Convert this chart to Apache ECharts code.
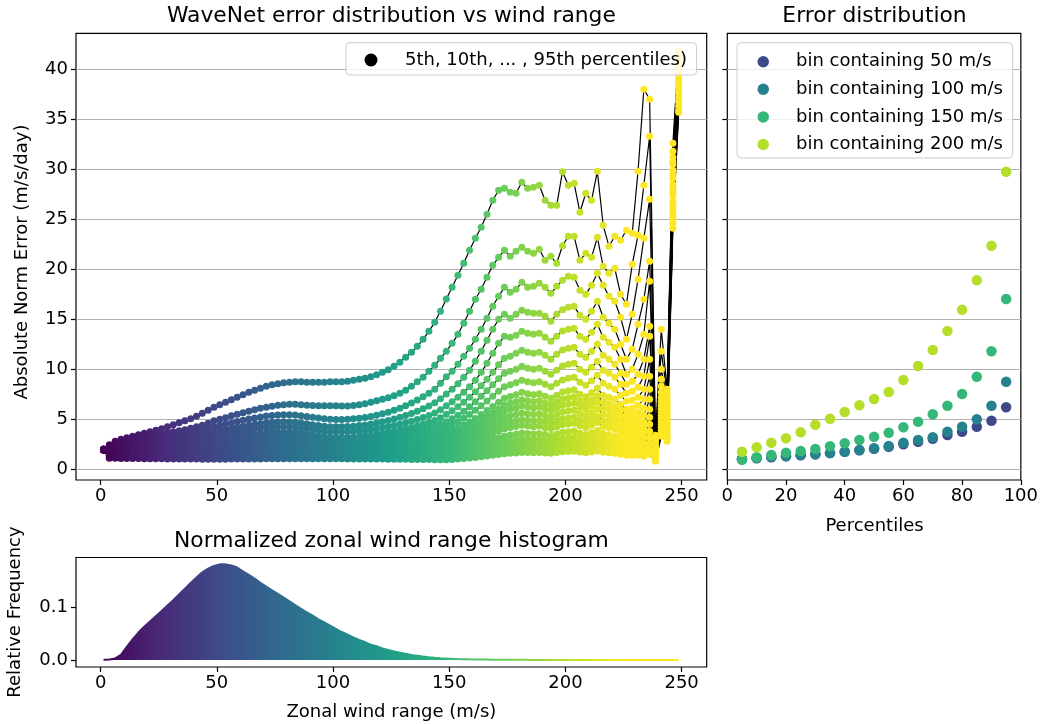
<!DOCTYPE html>
<html><head><meta charset="utf-8">
<script src="https://cdn.jsdelivr.net/npm/echarts@6/dist/echarts.min.js"></script>
<style>html,body{margin:0;padding:0;background:#fff}#c{width:1041px;height:724px}</style>
</head><body><div id="c"></div>
<script>
// ---------------- DATA ----------------
const windBins = [1.25,3.75,6.25,8.75,11.25,13.75,16.25,18.75,21.25,23.75,
26.25,28.75,31.25,33.75,36.25,38.75,41.25,43.75,46.25,48.75,
51.25,53.75,56.25,58.75,61.25,63.75,66.25,68.75,71.25,73.75,
76.25,78.75,81.25,83.75,86.25,88.75,91.25,93.75,96.25,98.75,
101.25,103.75,106.25,108.75,111.25,113.75,116.25,118.75,121.25,123.75,
126.25,128.75,131.25,133.75,136.25,138.75,141.25,143.75,146.25,148.75,
151.25,153.75,156.25,158.75,161.25,163.75,166.25,168.75,171.25,173.75,
176.25,178.75,181.25,183.75,186.25,188.75,191.25,193.75,196.25,198.75,
201.25,203.75,206.25,208.75,211.25,213.75,216.25,218.75,221.25,223.75,
226.25,228.75,231.25,233.75,236.25,238.75,241.25,243.75,246.25,248.75];

const p95 = [2.0,2.45,2.8,3.0,3.15,3.3,3.45,3.6,3.75,3.9,
4.05,4.25,4.45,4.65,4.85,5.05,5.3,5.6,5.9,6.2,
6.45,6.7,6.95,7.2,7.45,7.7,7.9,8.1,8.3,8.45,
8.55,8.65,8.7,8.75,8.75,8.7,8.7,8.7,8.7,8.76,
8.75,8.75,8.8,8.9,9.0,9.1,9.25,9.45,9.7,9.95,
10.3,10.7,11.2,11.7,12.3,13.0,13.8,14.7,15.8,17.03,
18.2,19.4,20.6,21.9,23.1,24.2,25.5,26.9,27.9,28.1,
27.7,27.6,28.7,28.1,28.2,28.4,26.9,26.4,26.4,29.76,
28.4,28.6,25.7,27.6,26.9,29.8,24.4,22.3,23.3,22.9,
23.9,23.6,29.8,38.0,37.0,3.4,14.0,8.0,32.6,41.8];
const p90 = [2.0,2.3,2.6,2.8,2.95,3.05,3.15,3.25,3.35,3.45,
3.55,3.65,3.75,3.85,3.95,4.1,4.25,4.4,4.6,4.86,
5.0,5.15,5.35,5.5,5.65,5.8,5.95,6.1,6.2,6.3,
6.4,6.45,6.5,6.5,6.45,6.4,6.38,6.36,6.35,6.36,
6.35,6.34,6.34,6.37,6.45,6.55,6.7,6.85,7.0,7.15,
7.35,7.6,7.9,8.3,8.75,9.2,9.8,10.4,11.1,11.8,
12.6,13.5,14.6,15.8,17.0,18.0,19.2,20.4,21.2,21.9,
21.3,21.8,22.2,21.8,21.6,22.0,20.9,21.3,20.6,22.36,
23.3,23.3,20.9,21.6,21.2,23.2,20.3,19.6,20.1,17.5,
16.5,20.5,23.4,28.4,33.3,3.0,11.8,7.6,31.8,41.3];
const p85 = [2.0,2.2,2.45,2.6,2.7,2.8,2.88,2.96,3.04,3.12,
3.2,3.3,3.4,3.5,3.6,3.7,3.82,3.95,4.1,4.26,
4.4,4.52,4.65,4.78,4.9,5.02,5.13,5.23,5.32,5.38,
5.43,5.45,5.45,5.42,5.36,5.28,5.2,5.12,5.06,5.0,
4.99,4.99,5.01,5.05,5.11,5.19,5.29,5.41,5.55,5.71,
5.9,6.1,6.35,6.62,6.92,7.25,7.6,8.0,8.6,9.26,
9.8,10.5,11.3,12.1,13.0,14.0,15.1,16.3,17.3,18.2,
17.7,18.0,18.7,18.2,18.3,18.6,18.2,17.6,18.3,18.9,
19.3,19.2,17.9,17.5,18.4,19.6,18.4,17.3,16.8,15.2,
13.0,15.5,19.0,23.1,27.0,2.75,10.0,7.2,31.2,40.8];
const p80 = [2.0,2.15,2.35,2.48,2.57,2.65,2.72,2.79,2.86,2.93,
3.0,3.07,3.14,3.22,3.3,3.38,3.47,3.56,3.66,3.76,
3.87,3.98,4.09,4.2,4.31,4.41,4.5,4.58,4.65,4.7,
4.73,4.75,4.74,4.7,4.63,4.55,4.46,4.38,4.31,4.26,
4.25,4.25,4.27,4.31,4.37,4.44,4.53,4.63,4.75,4.88,
5.03,5.2,5.38,5.58,5.8,6.05,6.33,6.65,7.05,7.53,
8.0,8.55,9.2,9.9,10.8,11.8,12.9,14.0,15.0,15.5,
15.1,15.5,15.9,15.7,15.6,15.6,15.3,14.8,15.5,15.96,
16.2,16.3,15.4,15.0,15.8,16.8,15.2,14.6,14.0,12.5,
11.0,12.0,14.5,17.0,20.8,2.5,9.0,6.8,30.8,40.4];
const p75 = [2.0,2.1,2.28,2.38,2.46,2.53,2.59,2.65,2.71,2.77,
2.83,2.89,2.95,3.01,3.07,3.14,3.2,3.27,3.35,3.43,
3.51,3.6,3.69,3.78,3.87,3.95,4.03,4.1,4.16,4.2,
4.23,4.25,4.24,4.2,4.14,4.06,3.97,3.88,3.81,3.76,
3.75,3.75,3.77,3.8,3.85,3.91,3.98,4.06,4.15,4.26,
4.38,4.51,4.65,4.81,4.98,5.17,5.38,5.62,5.95,6.36,
6.75,7.2,7.7,8.25,8.9,9.7,10.6,11.6,12.6,13.3,
13.2,13.4,13.8,13.6,13.5,13.6,13.2,12.8,13.3,13.83,
14.0,14.1,13.3,13.0,13.7,14.5,13.2,12.7,12.2,11.0,
9.5,10.0,11.5,13.5,18.8,2.3,8.3,6.5,30.5,40.0];
const p70 = [2.0,2.05,2.2,2.29,2.36,2.42,2.47,2.52,2.57,2.62,
2.67,2.72,2.76,2.8,2.84,2.88,2.92,2.96,3.0,3.05,
3.11,3.18,3.25,3.32,3.39,3.46,3.52,3.58,3.63,3.67,
3.7,3.71,3.7,3.66,3.6,3.52,3.43,3.34,3.26,3.2,
3.19,3.19,3.21,3.24,3.29,3.35,3.42,3.5,3.59,3.69,
3.8,3.92,4.05,4.19,4.34,4.5,4.68,4.88,5.15,5.5,
5.85,6.25,6.7,7.2,7.75,8.35,9.0,9.7,10.45,11.1,
11.3,11.6,11.9,11.7,11.6,11.7,11.4,11.0,11.5,11.93,
12.1,12.2,11.5,11.2,11.8,12.5,11.4,11.0,10.5,9.6,
8.5,8.8,9.5,11.0,14.3,2.15,7.7,6.2,29.9,39.7];
const p65 = [2.0,2.0,2.13,2.2,2.26,2.31,2.35,2.39,2.43,2.47,
2.51,2.54,2.57,2.6,2.62,2.64,2.66,2.68,2.71,2.75,
2.8,2.85,2.91,2.97,3.03,3.09,3.14,3.19,3.23,3.26,
3.28,3.29,3.28,3.25,3.2,3.14,3.07,3.01,2.96,2.93,
2.92,2.92,2.93,2.96,3.0,3.05,3.11,3.18,3.26,3.34,
3.43,3.53,3.64,3.75,3.87,4.0,4.14,4.3,4.5,4.76,
5.05,5.4,5.8,6.25,6.75,7.3,7.85,8.45,9.05,9.6,
9.8,10.0,10.3,10.1,10.0,10.1,9.8,9.5,9.9,10.33,
10.5,10.6,10.0,9.7,10.2,10.8,9.9,9.6,9.2,8.5,
7.6,7.8,8.2,9.3,13.3,2.0,7.2,5.9,29.4,39.5];
const p60 = [1.98,1.95,2.06,2.12,2.17,2.21,2.24,2.27,2.3,2.33,
2.35,2.37,2.39,2.41,2.42,2.43,2.44,2.45,2.47,2.5,
2.54,2.58,2.63,2.68,2.73,2.78,2.83,2.87,2.9,2.93,
2.95,2.96,2.95,2.93,2.89,2.84,2.78,2.73,2.69,2.66,
2.65,2.65,2.66,2.68,2.71,2.75,2.8,2.85,2.91,2.98,
3.05,3.13,3.21,3.3,3.4,3.5,3.62,3.75,3.94,4.2,
4.45,4.75,5.1,5.48,5.9,6.35,6.82,7.3,7.8,8.25,
8.45,8.65,8.9,8.75,8.65,8.75,8.5,8.25,8.6,8.93,
9.1,9.2,8.7,8.4,8.85,9.4,8.6,8.3,8.0,7.4,
6.8,6.9,7.2,8.0,11.0,1.9,6.8,5.6,29.1,39.1];
const p55 = [1.97,1.88,1.98,2.03,2.07,2.1,2.12,2.14,2.16,2.18,
2.19,2.2,2.21,2.22,2.22,2.22,2.22,2.22,2.23,2.25,
2.28,2.31,2.35,2.39,2.43,2.47,2.51,2.54,2.57,2.59,
2.61,2.62,2.61,2.59,2.55,2.5,2.45,2.4,2.36,2.33,
2.33,2.33,2.34,2.36,2.39,2.42,2.46,2.5,2.55,2.6,
2.66,2.72,2.79,2.86,2.94,3.03,3.13,3.25,3.42,3.66,
3.88,4.13,4.42,4.74,5.09,5.47,5.87,6.28,6.7,7.1,
7.28,7.45,7.7,7.55,7.45,7.55,7.3,7.1,7.4,7.73,
7.85,7.95,7.5,7.25,7.65,8.1,7.4,7.2,7.0,6.5,
6.0,6.1,6.4,7.0,9.3,1.8,6.4,5.3,28.5,38.7];
const p50 = [1.97,1.8,1.9,1.94,1.97,1.99,2.0,2.01,2.02,2.03,
2.03,2.03,2.03,2.03,2.03,2.02,2.02,2.02,2.03,2.05,
2.07,2.1,2.13,2.16,2.19,2.22,2.25,2.28,2.3,2.32,
2.33,2.34,2.33,2.31,2.28,2.24,2.2,2.16,2.13,2.1,
2.1,2.1,2.11,2.13,2.15,2.18,2.21,2.25,2.29,2.33,
2.38,2.43,2.49,2.55,2.62,2.7,2.79,2.9,3.05,3.26,
3.46,3.69,3.95,4.24,4.56,4.9,5.27,5.65,6.04,6.42,
6.6,6.75,6.95,6.85,6.75,6.85,6.62,6.45,6.72,7.03,
7.15,7.25,6.85,6.6,6.95,7.35,6.75,6.55,6.3,5.9,
5.4,5.5,5.7,6.1,8.0,1.7,6.0,5.0,28.0,38.4];
const p45 = [1.96,1.72,1.82,1.85,1.87,1.88,1.89,1.89,1.89,1.89,
1.89,1.89,1.88,1.88,1.87,1.87,1.87,1.87,1.88,1.9,
1.92,1.94,1.96,1.98,2.0,2.02,2.04,2.06,2.08,2.09,
2.1,2.1,2.1,2.08,2.06,2.03,2.0,1.97,1.95,1.92,
1.92,1.92,1.93,1.94,1.96,1.98,2.01,2.04,2.07,2.11,
2.15,2.19,2.24,2.29,2.35,2.42,2.5,2.6,2.74,2.93,
3.11,3.32,3.56,3.83,4.12,4.43,4.77,5.12,5.48,5.83,
6.0,6.14,6.32,6.22,6.14,6.22,6.02,5.87,6.12,6.4,
6.5,6.6,6.25,6.02,6.33,6.7,6.15,5.97,5.7,5.3,
4.9,4.9,5.1,5.4,7.0,1.6,5.7,4.8,27.7,38.2];
const p40 = [1.96,1.64,1.73,1.76,1.77,1.77,1.77,1.77,1.77,1.76,
1.76,1.75,1.74,1.74,1.73,1.73,1.72,1.72,1.73,1.75,
1.76,1.78,1.8,1.82,1.84,1.86,1.87,1.89,1.9,1.91,
1.92,1.92,1.92,1.9,1.88,1.85,1.83,1.8,1.78,1.76,
1.76,1.76,1.77,1.78,1.79,1.81,1.83,1.86,1.89,1.92,
1.95,1.99,2.03,2.07,2.12,2.18,2.24,2.32,2.44,2.6,
2.76,2.94,3.15,3.39,3.65,3.93,4.23,4.55,4.88,5.2,
5.35,5.48,5.64,5.55,5.48,5.55,5.38,5.24,5.47,5.73,
5.82,5.9,5.58,5.38,5.66,6.0,5.5,5.33,5.1,4.7,
4.4,4.4,4.5,4.7,6.0,1.5,5.4,4.6,27.3,37.8];
const p35 = [1.95,1.56,1.64,1.66,1.67,1.67,1.66,1.66,1.65,1.65,
1.64,1.63,1.62,1.61,1.61,1.6,1.6,1.6,1.61,1.62,
1.63,1.64,1.66,1.67,1.69,1.7,1.72,1.73,1.74,1.75,
1.76,1.76,1.76,1.74,1.72,1.7,1.68,1.66,1.64,1.62,
1.62,1.62,1.63,1.64,1.65,1.66,1.68,1.7,1.72,1.75,
1.77,1.8,1.84,1.87,1.91,1.96,2.01,2.07,2.17,2.3,
2.44,2.6,2.78,2.99,3.22,3.47,3.74,4.02,4.31,4.6,
4.73,4.85,4.99,4.9,4.84,4.9,4.75,4.63,4.83,5.06,
5.14,5.21,4.93,4.75,5.0,5.3,4.86,4.71,4.5,4.2,
3.9,3.9,4.0,4.1,5.2,1.4,5.1,4.4,26.7,37.6];
const p30 = [1.95,1.48,1.55,1.56,1.56,1.56,1.56,1.55,1.55,1.54,
1.53,1.52,1.51,1.5,1.5,1.49,1.49,1.49,1.49,1.5,
1.51,1.52,1.53,1.54,1.55,1.57,1.58,1.59,1.6,1.61,
1.61,1.62,1.61,1.6,1.58,1.57,1.55,1.53,1.52,1.5,
1.5,1.5,1.51,1.51,1.52,1.53,1.54,1.56,1.58,1.6,
1.62,1.64,1.67,1.7,1.73,1.76,1.8,1.85,1.93,2.03,
2.15,2.29,2.45,2.63,2.83,3.05,3.29,3.54,3.8,4.06,
4.17,4.27,4.4,4.32,4.26,4.32,4.19,4.08,4.26,4.46,
4.53,4.6,4.35,4.19,4.41,4.67,4.29,4.16,4.0,3.7,
3.5,3.4,3.5,3.6,4.5,1.3,4.8,4.2,26.2,37.2];
const p25 = [1.94,1.4,1.46,1.46,1.46,1.46,1.45,1.45,1.44,1.43,
1.43,1.42,1.41,1.41,1.4,1.4,1.39,1.39,1.39,1.4,
1.41,1.42,1.43,1.44,1.45,1.46,1.47,1.48,1.49,1.5,
1.5,1.51,1.5,1.49,1.48,1.47,1.46,1.45,1.44,1.42,
1.42,1.42,1.42,1.43,1.43,1.44,1.45,1.46,1.47,1.49,
1.5,1.52,1.54,1.56,1.58,1.61,1.64,1.68,1.75,1.83,
1.92,2.02,2.14,2.27,2.41,2.57,2.75,2.93,3.12,3.32,
3.42,3.52,3.63,3.57,3.52,3.57,3.47,3.38,3.53,3.7,
3.76,3.82,3.61,3.48,3.66,3.88,3.57,3.46,3.3,3.2,
3.0,3.0,3.0,3.1,3.8,1.2,4.5,3.9,25.8,36.9];
const p20 = [1.94,1.33,1.37,1.37,1.36,1.36,1.35,1.35,1.34,1.34,
1.33,1.33,1.32,1.32,1.31,1.31,1.3,1.3,1.3,1.3,
1.31,1.32,1.33,1.34,1.35,1.36,1.37,1.38,1.38,1.39,
1.39,1.4,1.39,1.39,1.38,1.37,1.36,1.35,1.34,1.33,
1.33,1.33,1.33,1.33,1.34,1.34,1.35,1.36,1.37,1.38,
1.39,1.4,1.42,1.43,1.45,1.47,1.5,1.53,1.58,1.66,
1.73,1.81,1.9,2.0,2.11,2.23,2.36,2.5,2.65,2.8,
2.88,2.96,3.05,3.0,2.96,3.0,2.92,2.85,2.97,3.1,
3.15,3.2,3.03,2.93,3.07,3.25,3.0,2.91,2.8,2.7,
2.6,2.6,2.6,2.6,3.2,1.1,4.2,3.6,25.3,36.7];
const p15 = [1.93,1.26,1.28,1.27,1.26,1.26,1.25,1.25,1.24,1.24,
1.23,1.23,1.22,1.22,1.21,1.21,1.2,1.2,1.2,1.2,
1.21,1.21,1.22,1.23,1.24,1.25,1.26,1.26,1.27,1.27,
1.28,1.28,1.28,1.28,1.27,1.27,1.26,1.26,1.25,1.25,
1.25,1.25,1.25,1.25,1.25,1.26,1.26,1.27,1.27,1.28,
1.29,1.3,1.31,1.32,1.33,1.34,1.36,1.38,1.4,1.43,
1.49,1.55,1.62,1.7,1.79,1.89,2.0,2.12,2.24,2.37,
2.44,2.51,2.59,2.55,2.52,2.55,2.49,2.43,2.54,2.66,
2.7,2.74,2.6,2.52,2.64,2.79,2.58,2.5,2.4,2.3,
2.2,2.2,2.2,2.2,2.6,1.0,3.9,3.3,25.0,36.3];
const p10 = [1.93,1.18,1.19,1.18,1.17,1.16,1.16,1.15,1.15,1.14,
1.14,1.13,1.13,1.12,1.12,1.11,1.11,1.1,1.1,1.1,
1.11,1.11,1.12,1.12,1.13,1.13,1.14,1.14,1.15,1.15,
1.16,1.16,1.16,1.16,1.16,1.16,1.16,1.15,1.15,1.15,
1.15,1.15,1.15,1.15,1.15,1.15,1.15,1.15,1.15,1.15,
1.16,1.16,1.16,1.17,1.17,1.17,1.18,1.18,1.19,1.2,
1.24,1.28,1.33,1.39,1.46,1.54,1.63,1.72,1.82,1.92,
1.98,2.04,2.11,2.08,2.06,2.08,2.03,1.99,2.09,2.2,
2.23,2.26,2.14,2.07,2.17,2.3,2.12,2.06,2.0,1.9,
1.8,1.8,1.8,1.8,2.0,0.9,3.6,3.1,24.6,35.9];
const p05 = [1.92,1.1,1.1,1.09,1.08,1.07,1.07,1.06,1.06,1.05,
1.05,1.04,1.04,1.03,1.03,1.02,1.02,1.01,1.01,1.0,
1.01,1.01,1.02,1.02,1.03,1.03,1.04,1.04,1.05,1.05,
1.05,1.06,1.06,1.06,1.06,1.06,1.06,1.05,1.05,1.05,
1.05,1.05,1.04,1.04,1.04,1.03,1.03,1.02,1.02,1.01,
1.01,1.0,1.0,0.99,0.98,0.98,0.97,0.96,0.96,0.95,
0.98,1.02,1.07,1.12,1.18,1.25,1.32,1.4,1.48,1.56,
1.6,1.64,1.69,1.67,1.65,1.67,1.63,1.6,1.68,1.76,
1.79,1.81,1.72,1.66,1.74,1.84,1.7,1.65,1.6,1.5,
1.4,1.4,1.4,1.3,1.5,0.8,3.3,2.8,24.1,35.7];

const percentiles = [5,10,15,20,25,30,35,40,45,50,55,60,65,70,75,80,85,90,95];
const bin50  = [1.0,1.1,1.2,1.3,1.4,1.5,1.62,1.75,1.9,2.05,2.25,2.5,2.75,3.05,3.43,3.76,4.26,4.86,6.2];
const bin100 = [1.05,1.15,1.25,1.33,1.42,1.5,1.62,1.76,1.92,2.1,2.33,2.66,2.93,3.2,3.76,4.26,5.0,6.36,8.76];
const bin150 = [0.95,1.2,1.43,1.66,1.83,2.03,2.3,2.6,2.93,3.26,3.66,4.2,4.76,5.5,6.36,7.53,9.26,11.8,17.03];
const bin200 = [1.76,2.2,2.66,3.1,3.7,4.46,5.06,5.73,6.4,7.03,7.73,8.93,10.33,11.93,13.83,15.96,18.9,22.36,29.76];

const histFreq = [0.0003,0.0008,0.003,0.01,0.025,0.039,0.052,0.063,0.073,0.083,
0.093,0.103,0.113,0.124,0.135,0.146,0.156,0.166,0.173,0.178,
0.181,0.181,0.179,0.175,0.168,0.161,0.154,0.146,0.139,0.132,
0.125,0.118,0.111,0.104,0.097,0.09,0.084,0.077,0.071,0.065,
0.059,0.053,0.048,0.043,0.038,0.034,0.029,0.026,0.022,0.019,
0.016,0.014,0.012,0.0095,0.008,0.0065,0.0052,0.0042,0.0034,0.0028,
0.0023,0.0019,0.0016,0.0013,0.0011,0.0009,0.0008,0.0007,0.0006,0.0005,
0.00045,0.0004,0.00035,0.0003,0.00028,0.00025,0.00022,0.0002,0.00018,0.00016,
0.00015,0.00014,0.00013,0.00012,0.00011,0.0001,0.0001,0.00009,0.00009,0.00008,
0.00008,0.00007,0.00007,0.00006,0.00006,0.00005,0.00005,0.00005,0.00004,0.00004];

const errTicks = [0,5,10,15,20,25,30,35,40];
const windTicks = [0,50,100,150,200,250];
const freqTicks = [0,0.1];

const legendMain = '5th, 10th, ... , 95th percentiles)';
const binNames = ['bin containing 50 m/s','bin containing 100 m/s','bin containing 150 m/s','bin containing 200 m/s'];

// ---------------- STYLE ----------------
const FONT = 'DejaVu Sans';
const viridis = ['#440154','#482878','#3e4989','#31688e','#26828e','#1f9e89','#35b779','#6ece58','#b5de2b','#fde725'];
const binColors = ['#3e4989','#26828e','#35b779','#b5de2b'];
const pLines = [p05,p10,p15,p20,p25,p30,p35,p40,p45,p50,p55,p60,p65,p70,p75,p80,p85,p90,p95];

const tickStyle = {show:true, length:5, lineStyle:{color:'#000', width:1.2}};
const labelStyle = {fontFamily:FONT, fontSize:18, color:'#000'};
const gridML = {
  silent:true, z:1, symbol:['none','none'], label:{show:false}, animation:false,
  lineStyle:{color:'#b0b0b0', width:1.2, type:'solid'}, emphasis:{disabled:true},
  data: errTicks.map(v => ({yAxis:v}))
};

const series = [];
pLines.forEach((arr, i) => {
  series.push({
    type:'line', name:legendMain, xAxisIndex:0, yAxisIndex:0,
    data: windBins.map((x,k) => [x, arr[k]]),
    symbol:'circle', symbolSize:7, showSymbol:true, showAllSymbol:true,
    lineStyle:{color:'#000', width:1.2}, itemStyle:{borderWidth:0},
    silent:true, emphasis:{disabled:true}, animation:false,
    markLine: i === 0 ? gridML : undefined
  });
});
[bin50,bin100,bin150,bin200].forEach((arr, i) => {
  series.push({
    type:'scatter', name:binNames[i], xAxisIndex:1, yAxisIndex:1,
    data: percentiles.map((p,j) => [p, arr[j]]),
    symbol:'circle', symbolSize:10.5, itemStyle:{color:binColors[i], opacity:1, borderWidth:0},
    silent:true, emphasis:{disabled:true}, animation:false,
    markLine: i === 0 ? gridML : undefined
  });
});
series.push({
  type:'line', name:'hist', xAxisIndex:2, yAxisIndex:2,
  data: windBins.map((x,k) => [x, histFreq[k]]),
  symbol:'none', lineStyle:{width:2}, areaStyle:{opacity:1},
  silent:true, emphasis:{disabled:true}, animation:false
});

const mainIdx = pLines.map((_,i) => i);

function txt(x, y, text, size, rot) {
  return {type:'text', x:x, y:y, rotation:rot||0, silent:true,
    style:{text:text, fontFamily:FONT, fontSize:size, fill:'#000',
      align:'center', verticalAlign:'middle', textAlign:'center', textVerticalAlign:'middle'}};
}
function legendText(padLeft) {
  return {fontFamily:FONT, fontSize:18, color:'#000', lineHeight:20,
    rich:{t:{fontFamily:FONT, fontSize:18, color:'#000', lineHeight:20, padding:[0,0,0,padLeft]}}};
}

const chart = echarts.init(document.getElementById('c'), null, {renderer:'canvas'});
chart.setOption({
  animation:false,
  backgroundColor:'#fff',
  grid:[
    {left:76, top:33.3, width:630.7, height:446.7, show:true, borderColor:'#000', borderWidth:1.2, backgroundColor:'transparent'},
    {left:727.3, top:33.3, width:294.4, height:446.7, show:true, borderColor:'#000', borderWidth:1.2, backgroundColor:'transparent'},
    {left:76, top:557.5, width:630.7, height:109.5, show:true, borderColor:'#000', borderWidth:1.2, backgroundColor:'transparent'}
  ],
  xAxis:[
    {type:'value', gridIndex:0, min:-10.6, max:260.8, axisLine:{show:false, onZero:false},
     axisTick:Object.assign({customValues:windTicks}, tickStyle),
     axisLabel:Object.assign({customValues:windTicks, margin:7}, labelStyle), splitLine:{show:false}},
    {type:'value', gridIndex:1, min:0, max:100, interval:20, axisLine:{show:false, onZero:false},
     axisTick:tickStyle, axisLabel:Object.assign({margin:7}, labelStyle), splitLine:{show:false}},
    {type:'value', gridIndex:2, min:-10.6, max:260.8, axisLine:{show:false, onZero:false},
     axisTick:Object.assign({customValues:windTicks}, tickStyle),
     axisLabel:Object.assign({customValues:windTicks, margin:7}, labelStyle), splitLine:{show:false}}
  ],
  yAxis:[
    {type:'value', gridIndex:0, min:-1.07, max:43.6, axisLine:{show:false, onZero:false},
     axisTick:Object.assign({customValues:errTicks}, tickStyle),
     axisLabel:Object.assign({customValues:errTicks, margin:8}, labelStyle), splitLine:{show:false}},
    {type:'value', gridIndex:1, min:-1.07, max:43.6, axisLine:{show:false, onZero:false},
     axisTick:Object.assign({customValues:errTicks}, tickStyle),
     axisLabel:{show:false}, splitLine:{show:false}},
    {type:'value', gridIndex:2, min:-0.0132, max:0.194, axisLine:{show:false, onZero:false},
     axisTick:Object.assign({customValues:freqTicks}, tickStyle),
     axisLabel:Object.assign({customValues:freqTicks, margin:8, formatter:v => Number(v).toFixed(1)}, labelStyle),
     splitLine:{show:false}}
  ],
  visualMap:[{type:'continuous', show:false, dimension:0, min:0, max:225,
    seriesIndex: mainIdx.concat([23]), inRange:{color:viridis}}],
  legend:[
    {data:[{name:legendMain, icon:'circle', itemStyle:{color:'#000'}}],
     left:346, top:42.7, orient:'horizontal', itemWidth:13, itemHeight:13,
     padding:[7.3,9.6,5,18.5], selectedMode:false,
     formatter: n => '{t|' + n + '}',
     backgroundColor:'rgba(255,255,255,0.8)', borderColor:'#cccccc', borderWidth:1, borderRadius:4,
     textStyle:legendText(22.5)},
    {data:binNames.map(n => ({name:n, icon:'circle'})),
     left:737, top:42.7, orient:'vertical', itemWidth:11.5, itemHeight:11.5, itemGap:7.6,
     padding:[9,9.7,3.5,20.5], selectedMode:false,
     formatter: n => '{t|' + n + '}',
     backgroundColor:'rgba(255,255,255,0.8)', borderColor:'#cccccc', borderWidth:1, borderRadius:4,
     textStyle:legendText(22)}
  ],
  graphic:[
    txt(391.4, 16, 'WaveNet error distribution vs wind range', 21.8),
    txt(874.5, 16, 'Error distribution', 21.8),
    txt(391.4, 541.5, 'Normalized zonal wind range histogram', 21.8),
    txt(22, 262, 'Absolute Norm Error (m/s/day)', 18, Math.PI/2),
    txt(874.5, 526, 'Percentiles', 18),
    txt(391.4, 712, 'Zonal wind range (m/s)', 18),
    txt(15, 612, 'Relative Frequency', 18, Math.PI/2)
  ],
  series:series
});
</script></body></html>
